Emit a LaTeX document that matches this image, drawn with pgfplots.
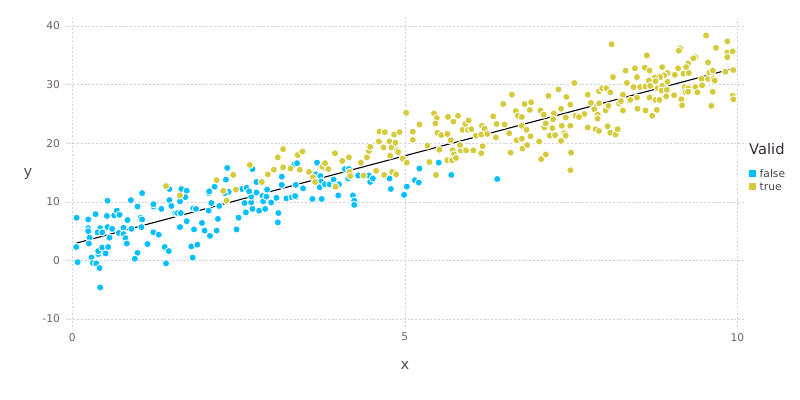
\documentclass[border=0pt]{standalone}
\usepackage{fontspec}
\setmainfont{DejaVu Sans}
\usepackage{pgfplots}
\usepackage{pgfplotstable}
\pgfplotsset{compat=1.18}
\definecolor{cblue}{HTML}{00BFFF}
\definecolor{cyel}{HTML}{D4CA3A}
\definecolor{gridc}{HTML}{D0D0E0}
\definecolor{ticklab}{HTML}{6C606B}
\definecolor{axlab}{HTML}{564A55}
\definecolor{keylab}{HTML}{4C404B}
\definecolor{keytitle}{HTML}{362A35}

\pgfplotstableread{
x y
0.065 7.3
0.08 -0.3
0.06 2.3
0.24 7.0
0.35 7.9
0.24 5.5
0.24 5.0
0.26 3.9
0.25 2.9
0.29 0.5
0.31 -0.4
0.36 -0.5
0.41 -1.3
0.42 -4.6
0.39 1.1
0.39 1.6
0.45 2.2
0.50 1.2
0.54 2.3
0.42 5.5
0.38 4.8
0.45 4.8
0.53 5.7
0.52 7.6
0.53 10.2
0.60 5.4
0.56 3.9
0.63 7.7
0.67 8.5
0.71 7.8
0.70 4.7
0.77 5.6
0.77 4.5
0.83 6.9
0.80 3.8
0.82 2.9
0.89 5.4
0.88 10.3
0.98 9.2
1.03 7.3
1.05 7.0
1.04 5.7
1.05 11.5
1.13 2.8
0.98 1.3
0.94 0.3
1.22 4.8
1.30 4.4
1.22 9.2
1.22 9.6
1.34 8.8
1.39 2.3
1.45 1.6
1.41 -0.5
1.46 12.2
1.46 10.3
1.49 9.3
1.55 8.1
1.60 5.7
1.64 12.2
1.72 11.9
1.70 10.8
1.62 10.1
1.58 8.1
1.63 8.1
1.62 5.7
1.72 6.7
1.82 8.9
1.86 8.8
1.83 5.3
1.79 2.4
1.88 2.7
1.81 0.5
1.95 6.4
1.99 5.1
2.05 8.5
2.05 11.5
2.06 11.8
2.09 9.8
2.07 4.2
2.14 12.6
2.17 5.1
2.19 7.1
2.21 9.3
2.31 13.8
2.33 15.8
2.35 11.7
2.29 11.5
2.47 5.3
2.50 7.3
2.55 12.2
2.62 12.4
2.61 8.2
2.59 9.8
2.69 9.9
2.71 8.8
2.69 10.9
2.71 15.6
2.66 11.8
2.77 13.4
2.81 8.5
2.77 11.6
2.86 11.0
2.87 10.1
2.90 8.8
2.92 10.9
2.93 12.1
2.99 9.9
3.07 10.7
3.10 8.1
3.09 6.5
3.15 12.9
3.15 14.3
3.22 10.6
3.30 10.8
3.34 16.4
3.36 10.8
3.38 16.6
3.36 12.9
3.47 12.3
3.35 11.0
3.61 10.5
3.75 10.5
3.68 16.7
3.66 14.7
3.73 14.4
3.78 15.8
3.74 13.5
3.72 12.5
3.80 13.0
3.87 13.0
3.93 13.8
3.95 12.8
4.01 13.0
4.00 11.1
4.10 15.6
4.16 15.6
4.15 14.0
4.22 11.1
4.24 10.2
4.24 9.5
4.30 14.5
4.46 14.5
4.48 13.4
4.52 14.0
4.77 14.0
4.79 12.2
4.99 11.2
5.03 12.6
5.22 15.7
5.51 16.7
5.15 13.7
5.21 13.3
5.70 14.6
6.39 13.9
}\falsedata

\pgfplotstableread{
x y
1.41 12.7
1.62 11.1
2.17 13.7
2.27 11.9
2.32 10.2
2.42 14.6
2.46 12.1
2.67 16.3
2.85 13.4
2.94 14.7
3.03 15.5
3.09 17.6
3.17 15.9
3.17 19.0
3.28 15.7
3.39 18.0
3.46 18.6
3.42 15.5
3.56 15.1
3.62 14.2
3.65 13.4
3.76 16.0
3.80 16.6
3.85 15.6
3.95 18.3
4.06 17.0
4.16 17.6
4.17 15.1
4.18 14.4
3.96 12.6
4.34 16.7
4.38 14.5
4.43 17.6
4.46 18.7
4.48 19.4
4.57 15.3
4.62 22.0
4.70 21.9
4.61 20.3
4.68 19.3
4.77 20.3
4.80 19.3
4.78 17.9
4.86 20.1
4.84 21.5
4.92 21.9
4.88 18.8
4.90 18.5
4.69 14.6
4.81 15.1
4.87 14.7
4.97 17.4
5.02 25.2
5.12 22.0
5.12 20.6
5.22 23.2
5.03 16.7
5.34 19.6
5.37 16.8
5.44 25.1
5.48 24.3
5.46 23.4
5.49 21.8
5.55 21.4
5.52 18.9
5.47 14.6
5.65 24.5
5.64 21.6
5.69 20.5
5.64 17.1
5.71 17.1
5.72 18.8
5.74 18.1
5.77 17.5
5.73 23.7
5.80 24.7
5.84 18.8
5.83 19.7
5.92 18.8
5.87 22.3
5.91 23.3
5.96 23.9
5.95 22.3
6.00 22.4
6.03 18.8
6.07 21.3
6.16 23.0
6.20 22.5
6.15 21.5
6.17 19.5
6.15 18.3
6.24 21.6
6.33 24.6
6.38 23.3
6.37 21.0
6.48 26.7
6.50 23.2
6.57 21.7
6.61 28.3
6.59 18.4
6.67 25.5
6.70 24.7
6.68 20.5
6.76 20.8
6.80 26.7
6.77 19.1
8.11 36.9
8.13 31.3
8.32 32.4
8.46 32.8
8.34 30.3
8.44 29.6
7.55 30.3
7.31 29.2
7.16 28.1
7.43 27.9
6.90 27.0
6.88 25.7
7.04 25.6
7.09 24.9
7.24 25.1
7.35 25.9
7.49 26.6
7.42 24.4
7.23 24.1
7.10 22.7
7.12 23.4
6.76 24.5
6.76 23.0
6.83 22.3
6.89 21.2
6.84 19.7
7.02 20.3
7.05 17.3
7.12 18.1
7.18 21.3
7.22 22.6
7.26 21.4
7.36 23.0
7.40 21.7
7.35 20.4
7.42 21.3
7.49 23.0
7.57 24.7
7.50 18.4
7.49 15.4
7.70 25.0
7.75 28.3
7.80 26.9
7.75 22.7
7.87 22.4
7.92 22.1
7.85 25.8
7.90 24.9
7.90 24.2
7.92 26.8
7.92 28.9
7.97 29.4
8.03 29.4
8.02 25.6
8.06 26.4
8.09 28.7
8.05 22.9
8.09 21.8
8.17 21.5
8.20 22.4
8.22 26.8
8.25 27.2
8.28 28.3
8.28 25.6
8.39 27.4
8.49 26.1
7.62 24.5
9.53 38.4
9.85 37.4
9.68 36.3
9.14 36.2
9.12 35.8
8.64 35.0
9.37 34.7
9.34 34.5
9.85 35.5
9.93 35.7
9.85 34.7
9.56 33.8
9.26 33.6
9.23 33.0
8.61 32.9
8.68 32.4
8.87 33.0
9.11 32.8
8.95 32.0
9.06 31.7
8.90 31.6
8.84 31.3
8.76 31.2
8.67 30.7
8.49 31.3
9.19 31.9
9.27 32.0
9.46 31.0
9.56 31.0
9.64 31.0
9.58 32.1
9.63 32.4
9.82 32.2
9.94 32.5
9.66 30.7
8.54 29.6
8.62 29.7
8.69 29.8
8.77 30.6
8.80 29.4
8.87 29.8
8.95 30.5
8.86 29.0
8.94 29.1
9.21 29.6
9.26 29.4
9.37 29.6
9.47 29.9
9.22 28.7
9.26 28.8
9.05 28.2
9.40 28.7
9.63 28.8
8.68 27.8
8.77 27.4
8.83 27.4
8.93 28.0
8.49 27.8
9.16 27.5
9.17 26.5
9.61 26.4
9.93 28.1
9.94 27.5
8.50 25.9
8.62 25.6
8.79 25.7
8.72 24.7
}\truedata

\begin{document}
\begin{tikzpicture}
\path[use as bounding box] (0,0) rectangle (800bp,400bp);
\begin{axis}[
  at={(65.65bp,73.3bp)}, anchor=south west,
  scale only axis, width=678.3bp, height=308.2bp,
  xmin=-0.1, xmax=10.1, ymin=-11.3, ymax=41.3,
  axis line style={draw=none},
  xtick={0,5,10}, ytick={-10,0,10,20,30,40},
  xticklabels={0,5,10}, yticklabels={-10,0,10,20,30,40},
  major tick length=0pt,
  grid=major,
  major grid style={gridc, line width=0.6bp, dash pattern=on 1.9bp off 1.9bp},
  tick label style={font=\fontsize{10.67bp}{12bp}\selectfont, text=ticklab, inner sep=0pt},
  yticklabel style={anchor=east, xshift=-5.6bp},
  xticklabel style={anchor=north, yshift=-6.3bp},
  xlabel={x}, ylabel={y},
  every axis x label/.style={at={(axis description cs:0.5003,-0.1265)}, anchor=center, inner sep=0pt, font=\fontsize{14.67bp}{16bp}\selectfont, text=axlab},
  every axis y label/.style={at={(axis description cs:-0.0555,0.4955)}, anchor=center, inner sep=0pt, font=\fontsize{14.67bp}{16bp}\selectfont, text=axlab},
  legend style={at={(axis description cs:1.007,0.5117)}, anchor=north west, draw=none, fill=none, inner sep=0pt, outer sep=0pt, row sep=4.7bp, column sep=4bp, font=\fontsize{10.67bp}{12bp}\selectfont, text=keylab},
  legend cell align=left,
  clip=false,
]
\addlegendimage{legend image code/.code={\fill[cblue] (0bp,-3.3bp) rectangle (6.6bp,3.3bp);}}
\addlegendentry[text height=8.3bp, text depth=0pt, inner sep=0pt]{false}
\addlegendimage{legend image code/.code={\fill[cyel] (0bp,-3.3bp) rectangle (6.6bp,3.3bp);}}
\addlegendentry[text height=8.3bp, text depth=0pt, inner sep=0pt]{true}
\addplot[only marks, mark=*, mark size=3.6bp, mark options={fill=cblue, draw=white, line width=0.9bp}, forget plot] table[x=x, y=y] {\falsedata};
\addplot[only marks, mark=*, mark size=3.6bp, mark options={fill=cyel, draw=white, line width=0.9bp}, forget plot] table[x=x, y=y] {\truedata};
\addplot[black, line width=1.1bp, forget plot] coordinates {(0.06,2.96) (9.95,32.8)};
\end{axis}
\node[anchor=base west, inner sep=0pt, font=\fontsize{14.67bp}{16bp}\selectfont, text=keytitle] at (749bp,245bp) {Valid};
\end{tikzpicture}
\end{document}
